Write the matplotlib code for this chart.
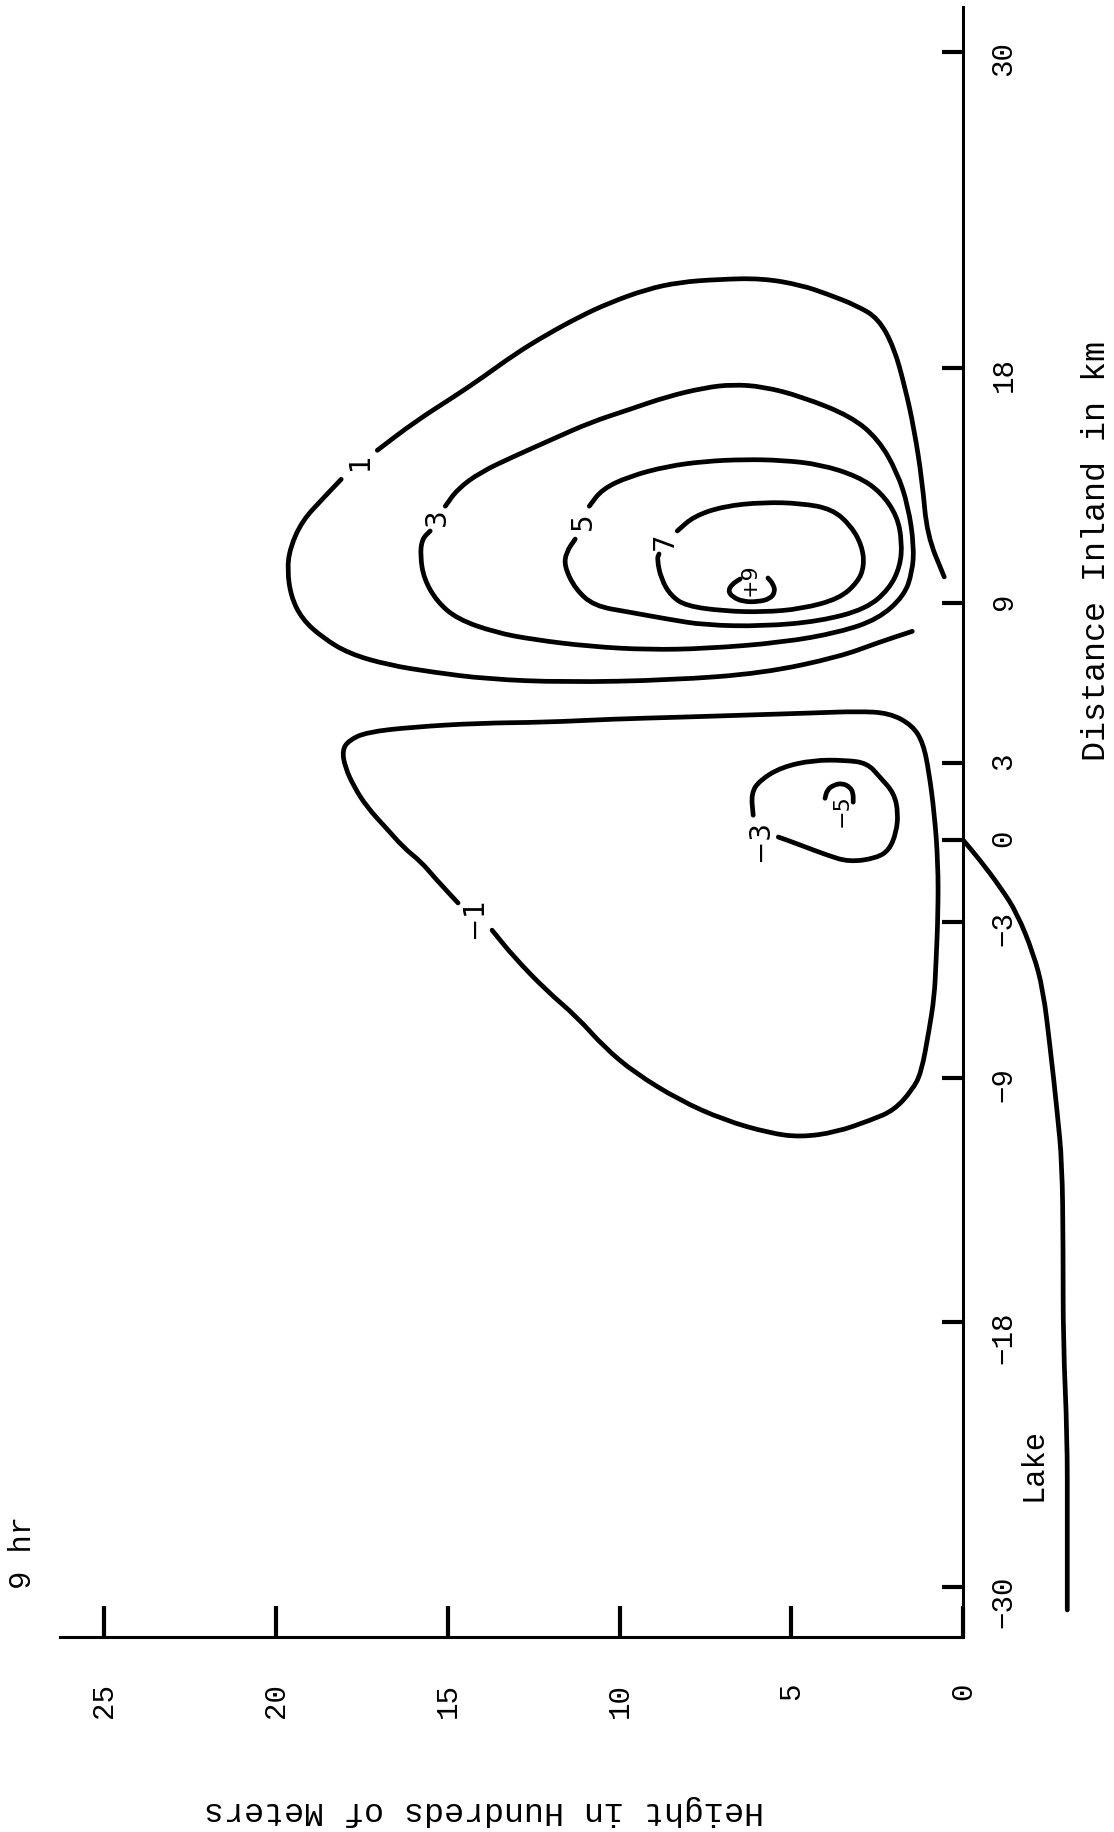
import numpy as np
from matplotlib import pyplot as plt, rcParams
from matplotlib.path import Path
from matplotlib.patches import PathPatch

rcParams["font.family"] = "Liberation Mono"

# Distance axis: tick values and where the hand-ruled marks fall (km)
dist_ticks = [-30, -18, -9, -3, 0, 3, 9, 18, 30]
dist_ruled = [-28.51, -18.40, -9.08, -3.13, 0.0, 2.94, 9.05, 18.02, 30.08]
height_ticks = [0, 5, 10, 15, 20, 25]

# Isolines: height (hundreds of m) vs distance inland (km)
pos1a_h = [0.55, 1.05, 1.19, 1.43, 1.69, 2.01, 2.47, 3.11, 3.93, 4.71, 5.85,
           7.13, 8.26, 9.22, 10.33, 11.15, 12.11, 13.07, 14.03, 14.81, 15.95, 17.05]
pos1a_d = [10.0, 11.6, 13.66, 15.69, 17.25, 18.78, 19.89, 20.38, 20.80, 21.15, 21.41,
           21.37, 21.26, 20.99, 20.46, 19.96, 19.28, 18.51, 17.60, 16.91, 15.95, 14.85]
pos1b_h = [18.10, 18.65, 19.24, 19.59, 19.67, 19.56, 19.24, 18.65, 17.87, 16.73,
           15.45, 13.85, 11.61, 8.50, 5.82, 3.61, 2.47, 1.48]
pos1b_d = [13.74, 12.98, 12.14, 11.11, 10.27, 9.24, 8.40, 7.71, 7.10, 6.68,
           6.41, 6.15, 6.03, 6.11, 6.37, 6.98, 7.52, 7.94]

pos3_h = [15.07, 14.72, 14.05, 13.07, 11.96, 10.85, 9.72, 8.61, 7.51, 6.72,
          5.82, 4.71, 3.26, 2.47, 1.92, 1.60, 1.43, 1.48, 1.72, 2.47,
          3.61, 5.27, 7.51, 9.17, 10.85, 12.51, 13.62, 14.72, 15.31, 15.69,
          15.80, 15.75, 15.51]
pos3_d = [12.71, 13.36, 14.01, 14.62, 15.27, 15.92, 16.41, 16.91, 17.25, 17.37,
          17.29, 16.91, 16.15, 15.27, 14.01, 12.71, 11.18, 10.19, 9.27, 8.40,
          7.90, 7.52, 7.29, 7.25, 7.37, 7.63, 7.90, 8.40, 9.05, 9.92,
          10.80, 11.45, 11.76]

pos5_h = [10.88, 10.51, 9.72, 8.61, 7.51, 6.37, 5.27, 4.16, 3.06, 2.39,
          1.92, 1.78, 1.83, 2.15, 2.82, 4.16, 5.82, 7.51, 8.61, 9.72,
          10.74, 11.29, 11.61, 11.55, 11.29]
pos5_d = [12.71, 13.36, 13.85, 14.24, 14.43, 14.50, 14.47, 14.31, 13.85, 13.24,
          12.33, 11.34, 10.42, 9.54, 8.78, 8.32, 8.13, 8.17, 8.40, 8.66,
          8.89, 9.54, 10.42, 10.95, 11.45]

pos7_h = [8.32, 7.83, 6.96, 5.82, 4.71, 3.81, 3.26, 2.94, 2.88, 3.06,
          3.61, 4.71, 5.82, 6.96, 8.06, 8.50, 8.79, 8.91, 8.85]
pos7_d = [11.76, 12.33, 12.71, 12.86, 12.82, 12.60, 11.95, 11.18, 10.42, 9.81,
          9.16, 8.78, 8.66, 8.70, 8.89, 9.27, 9.92, 10.69, 10.88]

pos9_h = [6.49, 6.72, 6.84, 6.72, 6.40, 5.97, 5.62, 5.47, 5.53, 5.68]
pos9_d = [9.92, 9.73, 9.47, 9.24, 9.05, 9.05, 9.16, 9.43, 9.73, 9.96]

neg1_h = [14.70, 15.40, 15.77, 16.30, 16.82, 17.35, 17.72, 17.99, 18.07, 17.87,
          17.35, 16.04, 14.09, 12.14, 10.22, 8.27, 6.32, 4.37, 3.06, 2.15,
          1.48, 1.16, 0.99, 0.84, 0.73, 0.73, 0.79, 0.84, 0.99, 1.22,
          1.48, 2.01, 2.68, 3.70, 4.74, 5.64, 6.96, 8.27, 9.55, 10.45,
          11.23, 12.14, 13.07, 13.71]
neg1_d = [-2.30, -1.35, -0.80, -0.26, 0.51, 1.29, 2.06, 2.85, 3.49, 3.86,
          4.16, 4.35, 4.50, 4.53, 4.65, 4.72, 4.80, 4.88, 4.94, 4.88,
          4.42, 3.75, 2.61, 1.05, -0.84, -2.67, -4.57, -5.88, -7.15, -8.81,
          -9.44, -10.19, -10.55, -11.00, -11.18, -11.03, -10.55, -9.81, -8.81, -7.81,
          -6.66, -5.62, -4.35, -3.31]

neg3_h = [6.11, 6.17, 5.91, 5.27, 4.37, 3.43, 2.79, 2.42, 2.01, 1.89,
          1.95, 2.15, 2.53, 3.32, 3.96, 4.74, 5.38]
neg3_d = [0.97, 1.83, 2.34, 2.85, 3.11, 3.11, 3.00, 2.45, 1.83, 1.05,
          0.28, -0.36, -0.66, -0.80, -0.55, -0.18, 0.12]

neg5_h = [4.02, 3.96, 3.78, 3.52, 3.29, 3.20, 3.20]
neg5_d = [1.63, 1.95, 2.14, 2.22, 2.06, 1.83, 1.48]

# shoreline / lake surface
shore_h = [0.0, -0.49, -1.08, -1.57, -2.04, -2.33, -2.53, -2.74, -2.88, -2.91,
           -2.91, -3.03, -3.03, -3.03]
shore_d = [0.0, -0.73, -1.72, -2.67, -4.19, -5.62, -7.81, -10.29, -12.14, -15.23,
           -18.81, -23.21, -26.96, -31.04]

label_text = ["1", "3", "5", "7", "+9", "\u22121", "\u22123", "\u22125"]
label_h = [17.55, 15.31, 11.06, 8.67, 6.20, 14.23, 5.91, 3.55]
label_d = [14.43, 12.29, 12.14, 11.37, 9.88, -2.85, 0.0, 1.17]
label_size = [20, 20, 20, 20, 16, 20, 20, 16]

# piecewise scale so the ticks land where they were ruled
D = np.r_[-100, dist_ticks, 100]
U = np.r_[-87.49, dist_ruled, 100.43]


def fwd(d):
    return np.interp(d, D, U)


def inv(u):
    return np.interp(u, U, D)


def pen_line(h, d):
    # quadratic curve through segment midpoints, like a french-curve stroke
    pts = np.column_stack([h, d])
    mids = (pts[:-1] + pts[1:]) / 2
    verts = [pts[0], mids[0]]
    codes = [Path.MOVETO, Path.LINETO]
    for i in range(1, len(pts) - 1):
        verts += [pts[i], mids[i]]
        codes += [Path.CURVE3, Path.CURVE3]
    verts.append(pts[-1])
    codes.append(Path.LINETO)
    return Path(verts, codes)


fig = plt.figure(figsize=(11.14, 18.32), dpi=100)
ax = fig.add_axes([0, 0, 1, 1])
ax.set_yscale("function", functions=(fwd, inv))
ax.set_xlim(28.03, -4.39)
ax.set_ylim(-41.1, 31.98)

lw = 3.4
segments = [(pos1a_h, pos1a_d), (pos1b_h, pos1b_d), (pos3_h, pos3_d),
            (pos5_h, pos5_d), (pos7_h, pos7_d), (pos9_h, pos9_d),
            (neg1_h, neg1_d), (neg3_h, neg3_d), (neg5_h, neg5_d),
            (shore_h, shore_d)]
for h, d in segments:
    ax.add_patch(PathPatch(pen_line(h, d), fill=False, edgecolor="black",
                           lw=lw, capstyle="round", joinstyle="round"))

for t, h, d, s in zip(label_text, label_h, label_d, label_size):
    ax.text(h, d, t, rotation=90, ha="center", va="center", fontsize=s,
            family="DejaVu Sans")

# axes lines
ax.spines["top"].set_visible(False)
ax.spines["left"].set_visible(False)
ax.spines["right"].set_position(("data", 0))
ax.spines["right"].set_bounds(-32.27, 31.7)
ax.spines["bottom"].set_position(("data", -32.27))
ax.spines["bottom"].set_bounds(0, 26.28)
for s in ["right", "bottom"]:
    ax.spines[s].set_linewidth(2.2)

ax.yaxis.tick_right()
ax.set_yticks(dist_ticks)
ax.set_yticklabels([str(t).replace("-", "\u2212") for t in dist_ticks])
ax.tick_params(axis="y", direction="in", length=15, width=3, labelsize=21,
               pad=19, labelrotation=90)
ax.set_xticks(height_ticks)
ax.set_xticklabels([str(t) for t in height_ticks])
ax.tick_params(axis="x", direction="in", length=22, width=3, labelsize=21,
               pad=33, labelrotation=90)

ax.set_xlabel("Height in Hundreds of Meters", fontsize=24, rotation=180,
              va="center", ha="center")
ax.xaxis.set_label_coords(0.4345, 0.012)
ax.yaxis.set_label_position("right")
ax.set_ylabel("Distance Inland in km", fontsize=24, rotation=90,
              va="center", ha="center", rotation_mode="default")
ax.yaxis.set_label_coords(0.9847, 0.6992)

ax.text(-2.04, -24.43, "Lake", rotation=90, ha="center", va="center",
        fontsize=22)
ax.text(0.0206, 0.1523, "9 hr", rotation=90, ha="center", va="center",
        fontsize=22, transform=ax.transAxes)

fig.savefig("out.png", dpi=100)
